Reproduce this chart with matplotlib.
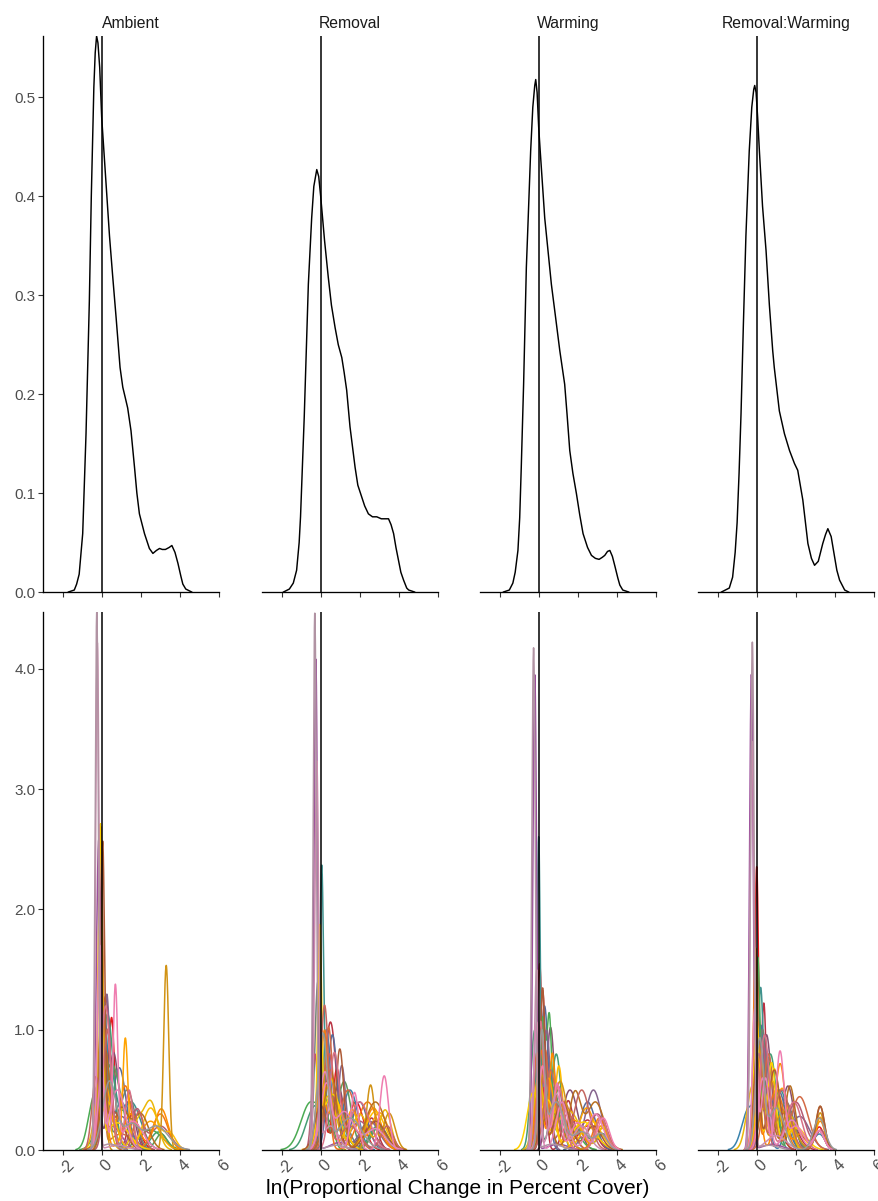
import numpy as np
import matplotlib.pyplot as plt
import matplotlib.transforms as mtransforms
from matplotlib.colors import LinearSegmentedColormap

plt.rcParams['font.family'] = ['Liberation Sans', 'DejaVu Sans']

treatments = ['Ambient', 'Removal', 'Warming', 'Removal:Warming']

# pooled density per treatment: x and density
ambient_x = [-1.7, -1.4, -1.28, -1.15, -0.97, -0.8, -0.63, -0.53, -0.4, -0.33, -0.26, -0.19,
             -0.1, 0.0, 0.2, 0.4, 0.56, 0.74, 0.94, 1.08, 1.2, 1.33, 1.5, 1.68, 1.8, 1.93,
             2.19, 2.44, 2.62, 2.8, 2.96, 3.1, 3.26, 3.45, 3.59, 3.75, 3.9, 4.05, 4.15, 4.3, 4.6]
ambient_y = [0.0, 0.002, 0.008, 0.018, 0.059, 0.16, 0.294, 0.40, 0.51, 0.545, 0.562, 0.555,
             0.53, 0.48, 0.42, 0.36, 0.32, 0.277, 0.227, 0.207, 0.197, 0.186, 0.163, 0.126, 0.1, 0.079,
             0.059, 0.044, 0.039, 0.042, 0.044, 0.043, 0.043, 0.045, 0.047, 0.04, 0.029, 0.016, 0.008, 0.003, 0.0]

removal_x = [-1.9, -1.6, -1.4, -1.23, -1.1, -1.03, -0.84, -0.63, -0.46, -0.35, -0.2, -0.1, 0.0,
             0.2, 0.39, 0.55, 0.74, 0.9, 1.08, 1.2, 1.33, 1.5, 1.76, 1.9, 2.1, 2.25, 2.44, 2.65,
             2.87, 3.1, 3.3, 3.47, 3.6, 3.73, 3.85, 3.98, 4.1, 4.24, 4.4, 4.5, 4.8]
removal_y = [0.0, 0.003, 0.009, 0.022, 0.05, 0.076, 0.177, 0.311, 0.378, 0.41, 0.427, 0.42, 0.40,
             0.355, 0.318, 0.29, 0.267, 0.25, 0.237, 0.222, 0.204, 0.167, 0.126, 0.108, 0.096, 0.087, 0.079, 0.076,
             0.076, 0.074, 0.074, 0.074, 0.068, 0.059, 0.045, 0.032, 0.02, 0.012, 0.004, 0.002, 0.0]

warming_x = [-1.8, -1.5, -1.32, -1.2, -1.06, -0.97, -0.89, -0.77, -0.63, -0.55, -0.41, -0.3, -0.2,
             -0.15, -0.08, 0.0, 0.08, 0.31, 0.65, 0.85, 1.08, 1.33, 1.45, 1.59, 1.75, 1.93, 2.1, 2.27,
             2.5, 2.7, 2.9, 3.09, 3.25, 3.38, 3.52, 3.64, 3.77, 3.9, 4.05, 4.15, 4.3, 4.6]
warming_y = [0.0, 0.002, 0.009, 0.02, 0.042, 0.075, 0.126, 0.21, 0.328, 0.37, 0.4456, 0.49, 0.512,
             0.518, 0.505, 0.47, 0.4456, 0.378, 0.311, 0.28, 0.244, 0.21, 0.18, 0.143, 0.12, 0.0995, 0.078, 0.059,
             0.045, 0.037, 0.034, 0.033, 0.035, 0.037, 0.041, 0.042, 0.036, 0.026, 0.014, 0.007, 0.002, 0.0]

remwarm_x = [-1.8, -1.6, -1.4, -1.23, -1.1, -1.0, -0.9, -0.8, -0.68, -0.55, -0.38, -0.25, -0.15,
             -0.1, -0.03, 0.05, 0.14, 0.3, 0.48, 0.65, 0.82, 0.9, 1.16, 1.42, 1.68, 1.93, 2.1, 2.36,
             2.62, 2.8, 2.96, 3.15, 3.38, 3.52, 3.64, 3.81, 3.98, 4.1, 4.24, 4.5, 4.7]
remwarm_y = [0.0, 0.002, 0.004, 0.015, 0.04, 0.07, 0.12, 0.18, 0.27, 0.36, 0.4456, 0.49, 0.508,
             0.512, 0.505, 0.48, 0.4456, 0.39, 0.345, 0.29, 0.244, 0.227, 0.183, 0.16, 0.143, 0.13, 0.123, 0.093,
             0.049, 0.034, 0.027, 0.031, 0.049, 0.058, 0.064, 0.056, 0.036, 0.022, 0.012, 0.002, 0.0]

pooled = [(ambient_x, ambient_y), (removal_x, removal_y), (warming_x, warming_y), (remwarm_x, remwarm_y)]

# species densities per treatment: species id -> modes (centre, spread, weight)
ambient_species = {
    0: [(0.51, 0.15, 0.40), (0.0, 0.2, 0.30), (1.5, 0.4, 0.30)],
    1: [(1.6, 0.25, 0.20), (0.2, 0.25, 0.80)],
    2: [(0.6, 0.25, 0.50), (1.4, 0.3, 0.30), (-0.2, 0.15, 0.20)],
    3: [(0.0, 0.15, 0.40), (0.9, 0.35, 0.60)],
    4: [(0.1, 0.2, 0.60), (1.0, 0.4, 0.40)],
    5: [(0.4, 0.3, 0.50), (1.5, 0.5, 0.50)],
    6: [(2.9, 0.4, 0.15), (0.3, 0.3, 0.85)],
    7: [(0.22, 0.3, 0.45), (-0.4, 0.3, 0.30), (2.5, 0.6, 0.25)],
    8: [(3.05, 0.3, 0.10), (0.5, 0.5, 0.90)],
    9: [(1.3, 0.4, 0.50), (0.1, 0.2, 0.50)],
    10: [(0.26, 0.15, 0.45), (-0.2, 0.15, 0.20), (1.0, 0.5, 0.35)],
    11: [(-0.15, 0.12, 0.75), (0.5, 0.5, 0.25)],
    12: [(1.8, 0.3, 0.25), (0.3, 0.2, 0.50), (3.0, 0.5, 0.25)],
    13: [(-0.05, 0.12, 0.80), (1.0, 0.6, 0.20)],
    14: [(1.21, 0.3, 0.40), (0.2, 0.3, 0.30), (3.0, 0.4, 0.30)],
    15: [(3.05, 0.35, 0.30), (0.0, 0.2, 0.40), (1.5, 0.4, 0.30)],
    16: [(1.21, 0.13, 0.30), (0.2, 0.3, 0.40), (2.5, 0.5, 0.30)],
    17: [(2.5, 0.4, 0.35), (0.3, 0.4, 0.40), (3.5, 0.3, 0.10)],
    18: [(-0.07, 0.1, 0.66), (0.8, 0.6, 0.34)],
    19: [(2.5, 0.35, 0.35), (1.8, 0.3, 0.15), (0.0, 0.3, 0.50)],
    20: [(3.3, 0.13, 0.50), (0.0, 0.15, 0.50)],
    21: [(0.2, 0.2, 0.40), (1.0, 0.35, 0.30), (2.0, 0.4, 0.30)],
    22: [(0.05, 0.1, 0.60), (0.6, 0.5, 0.40)],
    23: [(1.9, 0.25, 0.20), (0.3, 0.2, 0.50), (-0.3, 0.2, 0.30)],
    24: [(1.4, 0.2, 0.25), (0.2, 0.25, 0.75)],
    25: [(0.7, 0.12, 0.40), (0.0, 0.2, 0.30), (1.6, 0.5, 0.30)],
    26: [(-0.1, 0.12, 0.50), (0.8, 0.4, 0.50)],
    27: [(-0.22, 0.09, 0.95), (0.8, 0.5, 0.05)],
    28: [(-0.25, 0.085, 0.95), (0.4, 0.4, 0.05)],
    29: [(0.4, 0.35, 0.50), (2.8, 0.6, 0.30), (1.5, 0.4, 0.20)],
}

removal_species = {
    0: [(0.82, 0.2, 0.33), (1.8, 0.4, 0.40), (0.0, 0.2, 0.27)],
    1: [(2.6, 0.3, 0.20), (0.5, 0.3, 0.80)],
    2: [(0.9, 0.3, 0.40), (0.0, 0.2, 0.40), (2.4, 0.4, 0.20)],
    3: [(0.6, 0.25, 0.60), (2.0, 0.4, 0.40)],
    4: [(0.3, 0.2, 0.50), (1.5, 0.4, 0.50)],
    5: [(0.05, 0.1, 0.55), (0.6, 0.4, 0.45)],
    6: [(-0.4, 0.4, 0.30), (0.6, 0.5, 0.50), (2.9, 0.4, 0.20)],
    7: [(-0.5, 0.5, 0.50), (0.3, 0.25, 0.30), (3.0, 0.4, 0.20)],
    8: [(1.2, 0.35, 0.50), (3.0, 0.4, 0.20), (0.1, 0.2, 0.30)],
    9: [(-0.15, 0.15, 0.50), (0.8, 0.5, 0.50)],
    10: [(1.08, 0.2, 0.35), (0.3, 0.2, 0.35), (2.5, 0.5, 0.30)],
    11: [(-0.25, 0.09, 0.92), (1.0, 0.5, 0.08)],
    12: [(0.45, 0.2, 0.40), (-0.3, 0.15, 0.30), (2.0, 0.5, 0.30)],
    13: [(0.4, 0.2, 0.50), (1.4, 0.4, 0.50)],
    14: [(0.2, 0.2, 0.50), (2.4, 0.5, 0.50)],
    15: [(2.7, 0.4, 0.35), (0.8, 0.4, 0.40), (0.0, 0.2, 0.25)],
    16: [(3.0, 0.45, 0.35), (0.3, 0.3, 0.40), (1.6, 0.3, 0.25)],
    17: [(2.8, 0.5, 0.40), (0.5, 0.4, 0.60)],
    18: [(-0.05, 0.1, 0.42), (0.6, 0.5, 0.58)],
    19: [(3.3, 0.3, 0.25), (2.0, 0.4, 0.30), (0.4, 0.4, 0.45)],
    20: [(2.55, 0.2, 0.27), (0.3, 0.3, 0.50), (3.5, 0.3, 0.23)],
    21: [(0.5, 0.3, 0.50), (2.8, 0.5, 0.50)],
    22: [(0.98, 0.2, 0.42), (2.8, 0.5, 0.30), (0.0, 0.3, 0.28)],
    23: [(3.4, 0.3, 0.15), (0.2, 0.2, 0.60), (1.5, 0.5, 0.25)],
    24: [(0.7, 0.25, 0.50), (2.0, 0.5, 0.50)],
    25: [(3.25, 0.22, 0.34), (1.73, 0.2, 0.24), (0.3, 0.3, 0.42)],
    26: [(0.2, 0.25, 0.38), (1.2, 0.5, 0.40), (2.8, 0.5, 0.22)],
    27: [(-0.2, 0.1, 0.80), (0.5, 0.4, 0.20)],
    28: [(-0.3, 0.085, 0.95), (0.8, 0.5, 0.05)],
    29: [(0.1, 0.25, 0.60), (1.5, 0.6, 0.40)],
}

warming_species = {
    0: [(0.05, 0.12, 0.45), (0.8, 0.4, 0.30), (2.5, 0.5, 0.25)],
    1: [(1.5, 0.25, 0.25), (0.2, 0.15, 0.50), (2.5, 0.4, 0.25)],
    2: [(0.6, 0.2, 0.50), (1.6, 0.4, 0.50)],
    3: [(0.3, 0.2, 0.60), (2.5, 0.4, 0.40)],
    4: [(0.5, 0.2, 0.35), (0.0, 0.15, 0.30), (1.3, 0.4, 0.35)],
    5: [(0.0, 0.08, 0.50), (0.8, 0.5, 0.50)],
    6: [(0.9, 0.25, 0.50), (-0.2, 0.2, 0.50)],
    7: [(0.2, 0.12, 0.25), (0.55, 0.12, 0.25), (0.38, 0.25, 0.20), (1.5, 0.5, 0.30)],
    8: [(0.8, 0.2, 0.25), (0.2, 0.15, 0.40), (3.3, 0.3, 0.10), (1.8, 0.5, 0.25)],
    9: [(1.0, 0.25, 0.30), (0.3, 0.2, 0.40), (3.2, 0.3, 0.10), (2.0, 0.5, 0.20)],
    10: [(0.4, 0.2, 0.50), (2.8, 0.4, 0.50)],
    11: [(-0.2, 0.095, 0.94), (1.0, 0.5, 0.06)],
    12: [(3.0, 0.4, 0.30), (0.3, 0.2, 0.40), (1.5, 0.4, 0.30)],
    13: [(0.35, 0.15, 0.30), (-0.1, 0.15, 0.30), (1.3, 0.4, 0.40)],
    14: [(3.1, 0.3, 0.20), (1.0, 0.4, 0.40), (0.1, 0.2, 0.40)],
    15: [(0.7, 0.15, 0.30), (0.0, 0.2, 0.30), (1.8, 0.4, 0.25), (3.2, 0.3, 0.15)],
    16: [(2.45, 0.4, 0.35), (0.5, 0.3, 0.45), (3.4, 0.25, 0.10)],
    17: [(1.03, 0.2, 0.35), (0.2, 0.2, 0.35), (2.7, 0.5, 0.30)],
    18: [(-0.3, 0.3, 0.35), (0.5, 0.3, 0.30), (2.3, 0.6, 0.35)],
    19: [(3.3, 0.25, 0.12), (1.5, 0.6, 0.50), (0.0, 0.25, 0.38)],
    20: [(1.1, 0.35, 0.50), (3.2, 0.3, 0.20), (0.2, 0.2, 0.30)],
    21: [(1.85, 0.3, 0.35), (2.9, 0.45, 0.45), (0.4, 0.3, 0.20)],
    22: [(0.2, 0.12, 0.40), (1.2, 0.4, 0.40), (2.8, 0.4, 0.20)],
    23: [(0.6, 0.3, 0.50), (2.2, 0.4, 0.50)],
    24: [(0.1, 0.15, 0.40), (1.0, 0.3, 0.40), (3.2, 0.3, 0.20)],
    25: [(0.94, 0.18, 0.25), (0.2, 0.2, 0.35), (2.0, 0.35, 0.20), (3.3, 0.3, 0.20)],
    26: [(1.2, 0.3, 0.30), (-0.1, 0.15, 0.40), (2.9, 0.4, 0.30)],
    27: [(-0.1, 0.12, 0.45), (0.9, 0.3, 0.35), (2.2, 0.4, 0.20)],
    28: [(-0.26, 0.09, 0.94), (0.7, 0.5, 0.06)],
    29: [(0.15, 0.15, 0.35), (0.9, 0.4, 0.40), (3.2, 0.3, 0.10), (2.2, 0.4, 0.15)],
}

remwarm_species = {
    0: [(0.0, 0.1, 0.58), (0.8, 0.4, 0.30), (3.2, 0.25, 0.12)],
    1: [(0.37, 0.12, 0.35), (0.0, 0.15, 0.25), (1.5, 0.5, 0.40)],
    2: [(0.5, 0.25, 0.60), (1.6, 0.3, 0.40)],
    3: [(0.2, 0.2, 0.50), (1.1, 0.4, 0.50)],
    4: [(1.61, 0.2, 0.15), (-0.4, 0.35, 0.30), (0.3, 0.25, 0.45), (3.2, 0.3, 0.10)],
    5: [(0.2, 0.15, 0.50), (1.2, 0.4, 0.50)],
    6: [(0.7, 0.3, 0.60), (3.2, 0.25, 0.10), (0.0, 0.15, 0.30)],
    7: [(0.05, 0.12, 0.45), (0.7, 0.4, 0.40), (1.8, 0.3, 0.15)],
    8: [(1.75, 0.15, 0.12), (0.6, 0.3, 0.55), (0.0, 0.15, 0.33)],
    9: [(0.3, 0.2, 0.50), (1.5, 0.4, 0.40), (3.2, 0.25, 0.10)],
    10: [(0.4, 0.2, 0.40), (1.0, 0.3, 0.25), (2.2, 0.5, 0.35)],
    11: [(-0.27, 0.095, 0.94), (0.8, 0.5, 0.06)],
    12: [(2.0, 0.45, 0.45), (0.3, 0.2, 0.45), (3.3, 0.25, 0.10)],
    13: [(0.6, 0.25, 0.50), (2.2, 0.45, 0.50)],
    14: [(-0.05, 0.12, 0.50), (1.0, 0.4, 0.50)],
    15: [(1.2, 0.25, 0.45), (0.0, 0.2, 0.30), (3.25, 0.25, 0.15), (2.2, 0.3, 0.10)],
    16: [(3.25, 0.22, 0.15), (1.3, 0.35, 0.45), (0.2, 0.2, 0.40)],
    17: [(0.9, 0.25, 0.42), (0.2, 0.2, 0.30), (3.2, 0.25, 0.10), (2.0, 0.4, 0.18)],
    18: [(0.76, 0.2, 0.36), (0.0, 0.15, 0.40), (2.0, 0.5, 0.24)],
    19: [(1.8, 0.15, 0.10), (0.8, 0.35, 0.50), (-0.2, 0.3, 0.40)],
    20: [(3.25, 0.22, 0.17), (1.4, 0.5, 0.40), (0.1, 0.2, 0.43)],
    21: [(1.7, 0.25, 0.33), (3.25, 0.22, 0.20), (0.5, 0.3, 0.40), (2.4, 0.3, 0.07)],
    22: [(0.9, 0.3, 0.50), (0.0, 0.15, 0.30), (3.25, 0.22, 0.20)],
    23: [(1.3, 0.4, 0.50), (0.1, 0.2, 0.40), (3.2, 0.25, 0.10)],
    24: [(0.4, 0.25, 0.60), (1.9, 0.4, 0.40)],
    25: [(1.19, 0.2, 0.40), (0.3, 0.2, 0.30), (3.2, 0.25, 0.10), (2.0, 0.4, 0.20)],
    26: [(0.45, 0.2, 0.30), (-0.1, 0.12, 0.35), (1.8, 0.4, 0.25), (3.2, 0.25, 0.10)],
    27: [(-0.24, 0.1, 0.85), (1.0, 0.5, 0.15)],
    28: [(-0.22, 0.09, 0.95), (0.6, 0.5, 0.05)],
    29: [(0.15, 0.2, 0.45), (1.0, 0.4, 0.35), (3.2, 0.3, 0.20)],
}

species_sets = [ambient_species, removal_species, warming_species, remwarm_species]
n_species = 30

x_ticks = [-2, 0, 2, 4, 6]
x_tick_labels = ['-2', '0', '2', '4', '6']
top_ticks = [0.0, 0.1, 0.2, 0.3, 0.4, 0.5]
bottom_ticks = [0.0, 1.0, 2.0, 3.0, 4.0]

set1 = ['#E41A1C', '#377EB8', '#4DAF4A', '#984EA3', '#FF7F00',
        '#FFD500', '#A65628', '#F781BF', '#999999']
ramp = LinearSegmentedColormap.from_list('set1ramp', set1)
palette = [ramp(i / (n_species - 1)) for i in range(n_species)]


def density(x, modes):
    y = np.zeros_like(x)
    for m, s, w in modes:
        y += w * np.exp(-0.5 * ((x - m) / s) ** 2) / (s * np.sqrt(2 * np.pi))
    return y


grid = np.linspace(-3, 6, 1801)
curves = []
for sp in species_sets:
    curves.append({k: density(grid, v) for k, v in sp.items()})
bottom_max = max(c.max() for panel in curves for c in panel.values())
top_max = max(max(y) for _, y in pooled)

W, H = 879, 1201
fig = plt.figure(figsize=(W / 100, H / 100), dpi=100)
lefts = [43, 262, 480, 698]
pw = 176
tick_col = '#333333'
lab_col = '#4D4D4D'

for j, name in enumerate(treatments):
    for row in range(2):
        if row == 0:
            top, bot = 36, 592
        else:
            top, bot = 612, 1150
        ax = fig.add_axes([lefts[j] / W, (H - bot) / H, pw / W, (bot - top) / H])
        ax.set_xlim(-3, 6)
        for s in ['top', 'right']:
            ax.spines[s].set_visible(False)
        ax.spines['bottom'].set_linewidth(0.95)
        ax.spines['left'].set_linewidth(0.95)
        if j > 0:
            ax.spines['left'].set_visible(False)
        ax.set_xticks(x_ticks)
        ax.tick_params(axis='both', length=3.5, width=0.8, color=tick_col,
                       labelcolor=lab_col, labelsize=11, pad=2)
        if row == 0:
            px, py = pooled[j]
            ax.plot(px, py, color='black', lw=1.05, zorder=3)
            ax.set_ylim(0, top_max)
            ax.set_yticks(top_ticks)
            ax.set_yticklabels([f'{t:.1f}' for t in top_ticks])
            ax.set_xticklabels([])
            ax.set_title(name, fontsize=11.3, color='#1A1A1A', pad=6)
        else:
            for k in sorted(curves[j]):
                y = curves[j][k].copy()
                y[y < 0.004] = np.nan
                ax.plot(grid, y, color=palette[k], lw=1.1, zorder=2)
            ax.set_ylim(0, bottom_max)
            ax.set_yticks(bottom_ticks)
            ax.set_yticklabels([f'{t:.1f}' for t in bottom_ticks])
            ax.set_xticklabels(x_tick_labels, rotation=45, ha='center', va='top',
                               fontsize=11.5)
            off = mtransforms.ScaledTranslation(5 / 100, 0, fig.dpi_scale_trans)
            for lab in ax.get_xticklabels():
                lab.set_transform(lab.get_transform() + off)
        if j > 0:
            ax.tick_params(axis='y', left=False, labelleft=False)
        ax.axvline(0, color='black', lw=1.1, zorder=4)
        ax.patch.set_alpha(0)

fig.text(458 / W, 1 - 1188 / H, 'ln(Proportional Change in Percent Cover)',
         ha='center', va='center', fontsize=15, color='black')

fig.savefig('out.png', dpi=100)
